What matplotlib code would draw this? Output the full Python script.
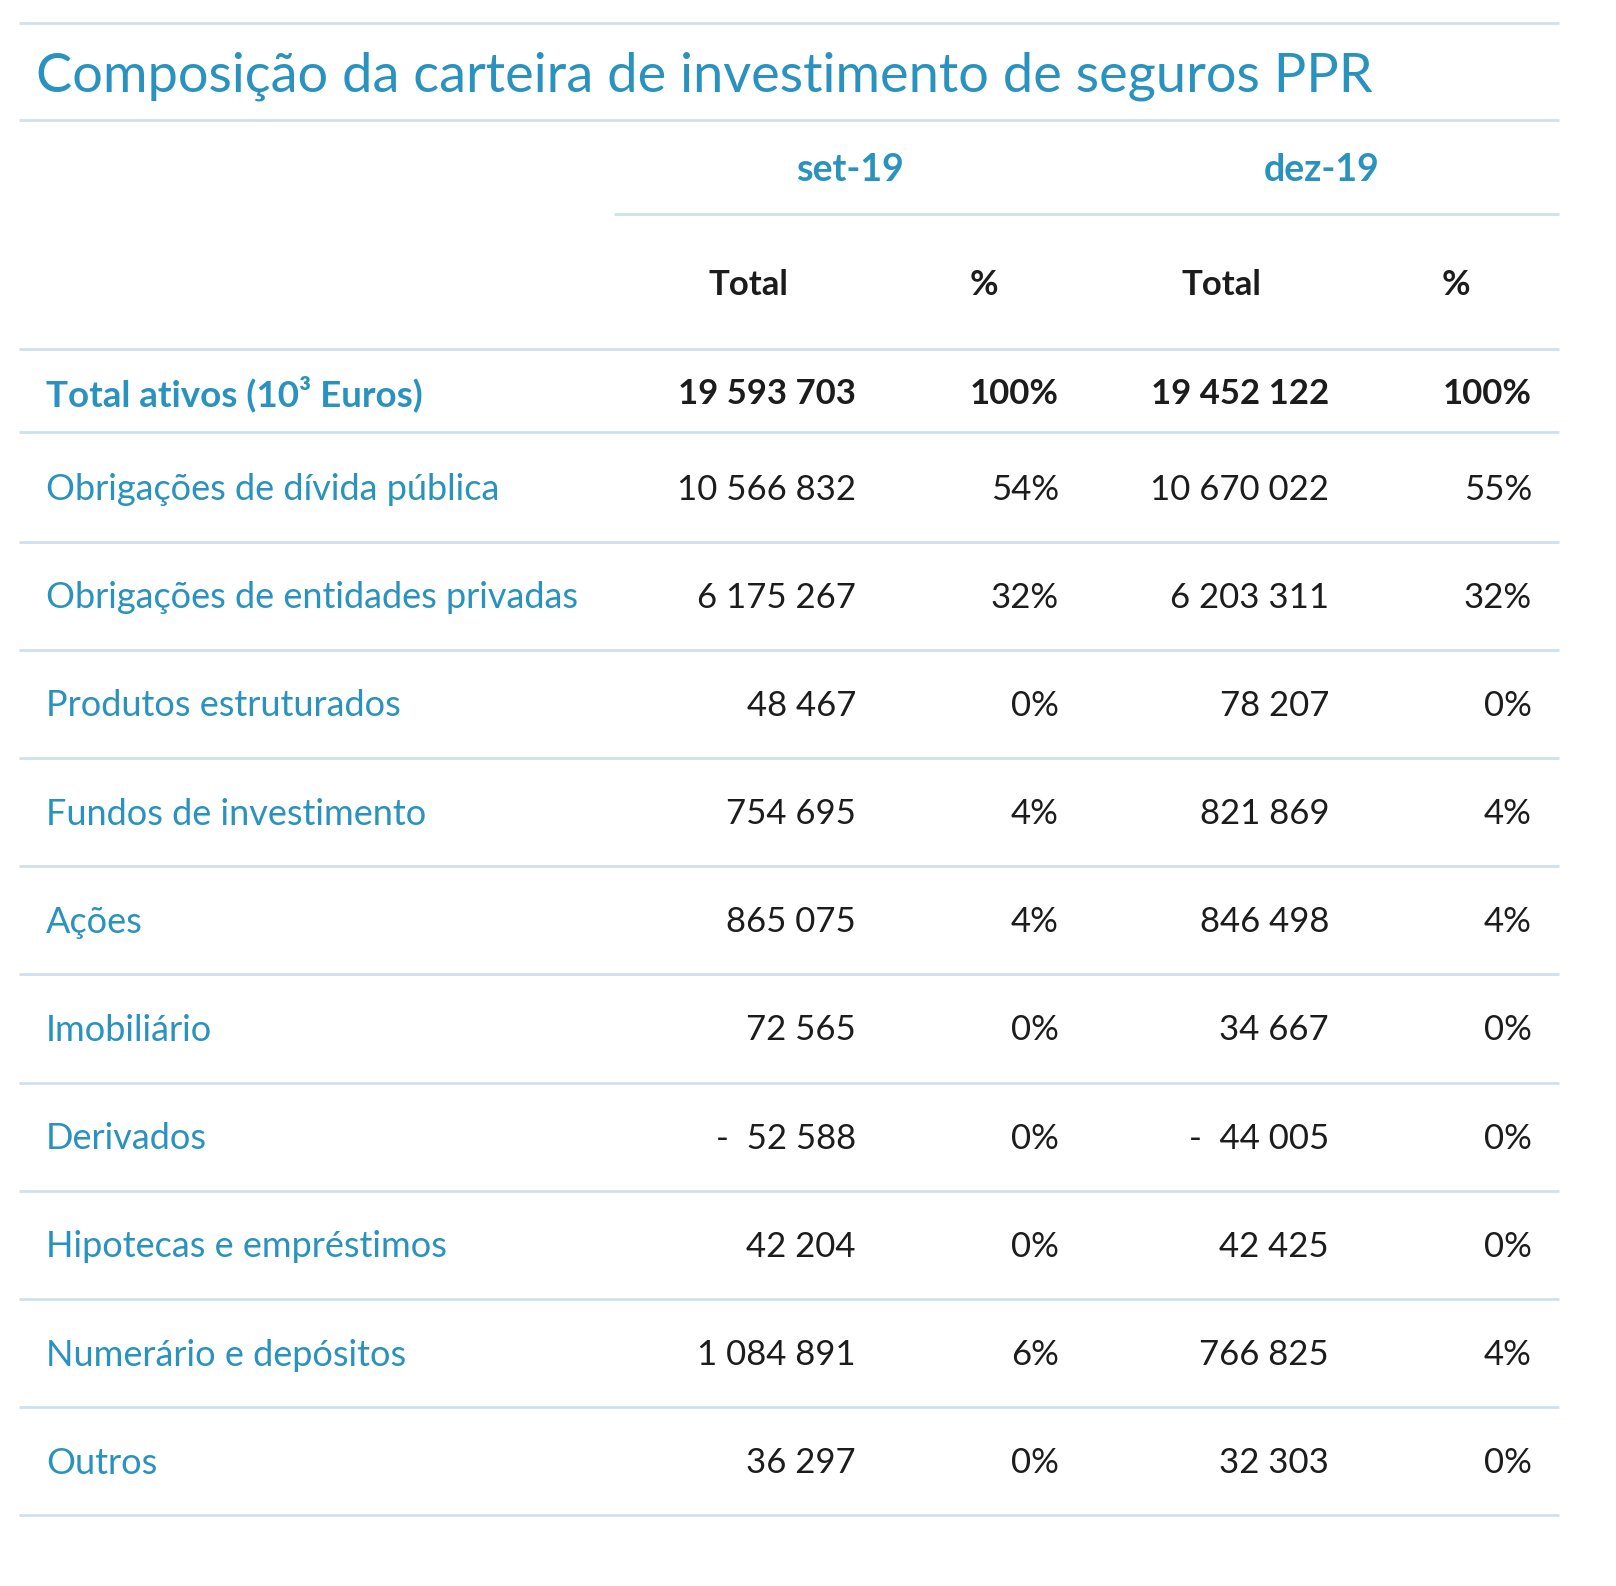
import matplotlib.pyplot as plt

plt.rcParams['font.family'] = ['Lato', 'DejaVu Sans']

title = "Composição da carteira de investimento de seguros PPR"
periods = ["set-19", "dez-19"]
sub_headers = ["Total", "%", "Total", "%"]

total_label = "Total ativos (10³ Euros)"
total_set = "19 593 703"
total_set_pct = "100%"
total_dez = "19 452 122"
total_dez_pct = "100%"

categories = [
    "Obrigações de dívida pública",
    "Obrigações de entidades privadas",
    "Produtos estruturados",
    "Fundos de investimento",
    "Ações",
    "Imobiliário",
    "Derivados",
    "Hipotecas e empréstimos",
    "Numerário e depósitos",
    "Outros",
]
set19_total = ["10 566 832", "6 175 267", "48 467", "754 695", "865 075",
               "72 565", "-  52 588", "42 204", "1 084 891", "36 297"]
set19_pct = ["54%", "32%", "0%", "4%", "4%", "0%", "0%", "0%", "6%", "0%"]
dez19_total = ["10 670 022", "6 203 311", "78 207", "821 869", "846 498",
               "34 667", "-  44 005", "42 425", "766 825", "32 303"]
dez19_pct = ["55%", "32%", "0%", "4%", "4%", "0%", "0%", "0%", "4%", "0%"]

blue = "#2a92bf"
dark = "#1c1c1c"
line_c = "#cfe0ee"

W, H = 1616, 1586
fig = plt.figure(figsize=(W / 100, H / 100), dpi=100)
ax = fig.add_axes([0, 0, 1, 1])
ax.set_xlim(0, W)
ax.set_ylim(H, 0)
ax.axis('off')

left, right = 19, 1559
fs_lab = 26
fs_num = 25

def hline(y, x0=left):
    ax.plot([x0, right], [y, y], color=line_c, lw=2, solid_capstyle='butt')

# title block
hline(23)
ax.text(36, 76, title, fontsize=39, color=blue, va='center', ha='left')
hline(120)

# period headers
ax.text(850, 170, periods[0], fontsize=27, color=blue, weight='bold', ha='center', va='center')
ax.text(1322, 170, periods[1], fontsize=27, color=blue, weight='bold', ha='center', va='center')
hline(214, x0=614)

for x, s in zip([748, 984, 1221, 1456], sub_headers):
    ax.text(x, 285, s, fontsize=fs_num, color=dark, weight='bold', ha='center', va='center')
hline(349)

# columns (right edges)
col_x = [856, 1059, 1329, 1532]
label_x = 46

y_total = 394
ax.text(label_x, y_total, total_label, fontsize=26.5, color=blue, weight='bold', ha='left', va='center')
for x, s in zip(col_x, [total_set, total_set_pct, total_dez, total_dez_pct]):
    ax.text(x, y_total, s, fontsize=fs_num, color=dark, weight='bold', ha='right', va='center')
hline(432)

row_h = 108.2
y0 = 487.5
for i, cat in enumerate(categories):
    y = y0 + i * row_h
    ax.text(label_x, y + 2, cat, fontsize=fs_lab, color=blue, ha='left', va='center')
    vals = [set19_total[i], set19_pct[i], dez19_total[i], dez19_pct[i]]
    for x, s in zip(col_x, vals):
        ax.text(x, y + 2, s, fontsize=fs_num, color=dark, ha='right', va='center')
    hline(y + row_h / 2)

fig.savefig("out.png", dpi=100, facecolor='white')
